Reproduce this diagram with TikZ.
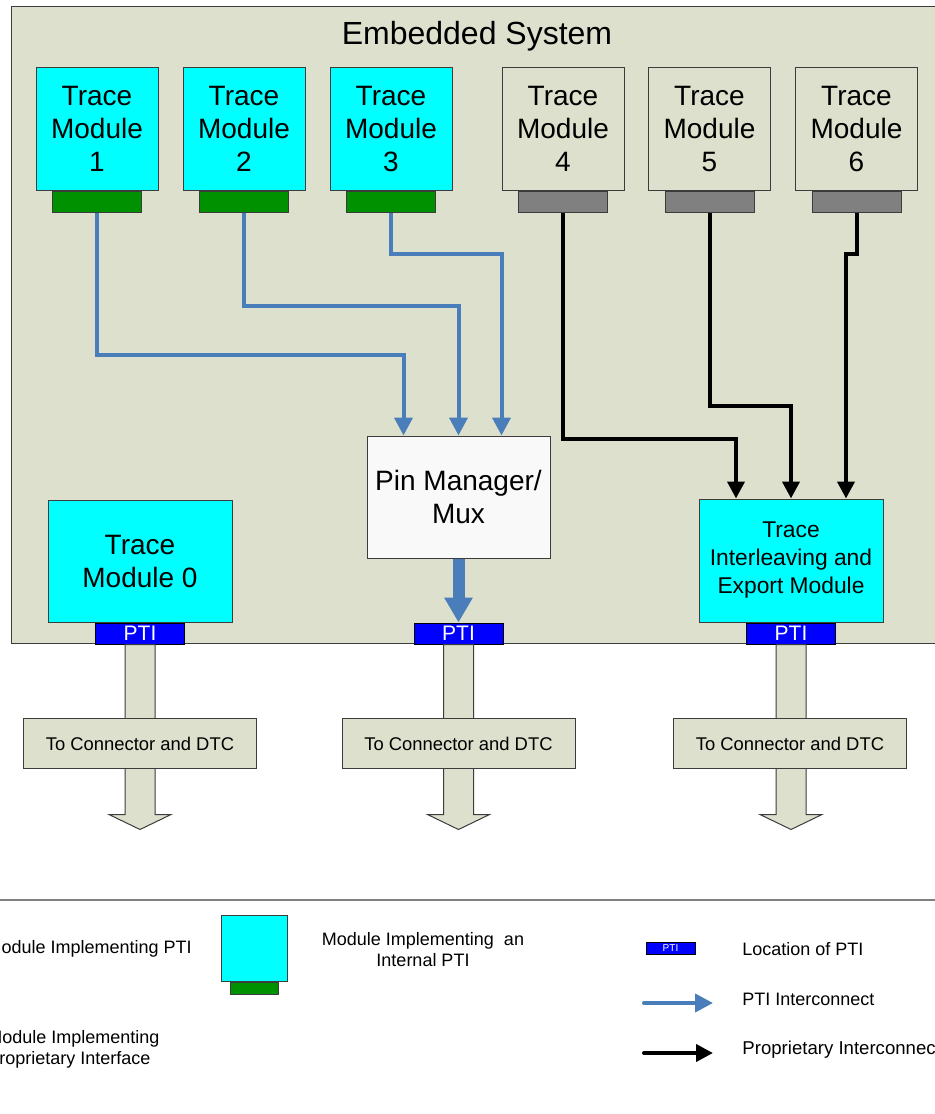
\documentclass[tikz,border=0pt]{standalone}
\usepackage{fontspec}
\setmainfont{Liberation Sans}
\usetikzlibrary{arrows.meta,calc}

\definecolor{sysbg}{RGB}{221,224,204}
\definecolor{modcyan}{RGB}{0,255,255}
\definecolor{tabgreen}{RGB}{0,145,0}
\definecolor{tabgray}{RGB}{128,128,128}
\definecolor{ptiblue}{RGB}{0,0,255}
\definecolor{linkblue}{RGB}{74,126,187}
\definecolor{pinwhite}{RGB}{249,249,249}
\definecolor{edgegray}{RGB}{60,60,60}

\tikzset{
  sysbox/.style={draw=edgegray, line width=0.5pt, fill=sysbg, anchor=north west, inner sep=0pt},
  module/.style={draw=edgegray, line width=0.5pt, fill=modcyan, minimum width=61pt, minimum height=61.5pt, align=center, inner sep=0pt, font=\fontsize{14}{16.5}\selectfont},
  propmodule/.style={module, fill=sysbg},
  tabbox/.style={draw=edgegray, line width=0.5pt, fill=tabgreen, minimum width=44.5pt, minimum height=10.5pt, inner sep=0pt, anchor=north},
  graytab/.style={tabbox, fill=tabgray},
  ptibox/.style={draw=black, line width=0.5pt, fill=ptiblue, text=white, minimum width=44.5pt, minimum height=10.5pt, inner sep=0pt, anchor=north, font=\fontsize{10.5}{10.5}\selectfont},
  ptilink/.style={draw=linkblue, line width=2pt, -{Triangle[width=9pt,length=9pt]}},
  proplink/.style={draw=black, line width=2pt, -{Triangle[width=8.5pt,length=8.5pt]}},
  outbox/.style={draw=edgegray, line width=0.5pt, fill=sysbg, minimum width=116.5pt, minimum height=25pt, inner sep=0pt, font=\fontsize{9.2}{11}\selectfont},
  outarrow/.style={draw=edgegray, line width=0.5pt, fill=sysbg},
  legend/.style={font=\fontsize{9}{10.5}\selectfont, inner sep=0pt}
}

\begin{document}
\begin{tikzpicture}[x=0.5pt, y=-0.5pt]
    % Page frame
    \fill[white] (0,0) rectangle (935,1114);
    \useasboundingbox (0,0) rectangle (935,1114);
    \clip (0,0) rectangle (935,1114);

    % Embedded system
    \node[sysbox, minimum width=469.5pt, minimum height=318.5pt] (sys) at (11,6) {};
    \node[font=\fontsize{16}{19}\selectfont] (title) at (477,36) {Embedded System};

    % Trace modules with internal PTI
    \node[module] (m1) at (97,129) {Trace\\Module\\1};
    \node[module] (m2) at (244,129) {Trace\\Module\\2};
    \node[module] (m3) at (391,129) {Trace\\Module\\3};
    \node[tabbox] (t1) at (m1.south) {};
    \node[tabbox] (t2) at (m2.south) {};
    \node[tabbox] (t3) at (m3.south) {};

    % Trace modules with proprietary interface
    \node[propmodule] (m4) at (563,129) {Trace\\Module\\4};
    \node[propmodule] (m5) at (709.5,129) {Trace\\Module\\5};
    \node[propmodule] (m6) at (856.5,129) {Trace\\Module\\6};
    \node[graytab] (t4) at (m4.south) {};
    \node[graytab] (t5) at (m5.south) {};
    \node[graytab] (t6) at (m6.south) {};

    % Receiving blocks
    \node[module, fill=pinwhite, minimum width=91.5pt, minimum height=61pt] (pin) at (458.5,497) {Pin Manager/\\Mux};
    \node[module, minimum width=92pt, minimum height=61.5pt, font=\fontsize{11.4}{14}\selectfont] (ilv) at (791,560.5) {Trace\\Interleaving and\\Export Module};
    \node[module, minimum width=92pt, minimum height=61pt] (m0) at (140,561) {Trace\\Module 0};

    % PTI locations
    \node[ptibox] (pti0) at (m0.south) {PTI};
    \node[ptibox] (ptiM) at (458.5,622.5) {PTI};
    \node[ptibox] (ptiT) at (ilv.south) {PTI};

    % PTI interconnect
    \draw[ptilink] (t1.south) -- ++(0,142) -| ($(pin.north)+(-55,0)$);
    \draw[ptilink] (t2.south) -- ++(0,93) -| (pin.north);
    \draw[ptilink] (t3.south) -- ++(0,41) -| ($(pin.north)+(43,0)$);
    \draw[draw=linkblue, line width=6pt, -{Triangle[width=13.5pt,length=12.5pt]}] (pin.south) -- (ptiM.north);

    % Proprietary interconnect
    \draw[proplink] (t4.south) -- ++(0,226) -| ($(ilv.north)+(-55,0)$);
    \draw[proplink] (t5.south) -- ++(0,193) -| (ilv.north);
    \draw[proplink] (t6.south) -- ++(0,41) -| ($(ilv.north)+(55,0)$);

    % Outputs to connector
    \foreach \p in {pti0,ptiM,ptiT}
        \draw[outarrow] ($(\p.south)+(-15,0)$) -- ++(0,170) -- ++(-16,0) -- ($(\p.south)+(0,185)$)
            -- ++(31,-15) -- ++(-16,0) -- ($(\p.south)+(15,0)$) -- cycle;
    \node[outbox] (out0) at ($(pti0.south)+(0,99)$) {To Connector and DTC};
    \node[outbox] (outM) at ($(ptiM.south)+(0,99)$) {To Connector and DTC};
    \node[outbox] (outT) at ($(ptiT.south)+(-1,99)$) {To Connector and DTC};

    % Legend
    \draw[gray, line width=1pt] (0,900) -- (935,900);
    \node[legend, anchor=east] (lgA) at (192,949) {Module Implementing PTI};
    \node[module, minimum width=33pt, minimum height=33pt] (lgmod) at (254,948) {};
    \node[tabbox, minimum width=24pt, minimum height=6pt] (lgtab) at (lgmod.south) {};
    \node[legend, align=center] (lgB) at (423,949.5) {Module Implementing~ an\\Internal PTI};
    \node[legend, anchor=west, align=left] (lgC) at (-13,1049) {Module Implementing\\Proprietary Interface};

    \node[ptibox, anchor=center, minimum width=24.5pt, minimum height=6pt, font=\fontsize{5}{5}\selectfont] (lgpti) at (670.5,948) {PTI};
    \node[legend, anchor=west] (lgD) at (742,949) {Location of PTI};
    \coordinate (lgbs) at (644,1003);
    \coordinate (lgbe) at (713,1003);
    \draw[ptilink, line cap=round] (lgbs) -- (lgbe);
    \node[legend, anchor=west] (lgE) at (742,999) {PTI Interconnect};
    \coordinate (lgks) at (644,1053);
    \coordinate (lgke) at (713,1053);
    \draw[proplink, line cap=round] (lgks) -- (lgke);
    \node[legend, anchor=west, font=\fontsize{9.3}{10.5}\selectfont] (lgF) at (742,1050) {Proprietary Interconnect};
\end{tikzpicture}
\end{document}
